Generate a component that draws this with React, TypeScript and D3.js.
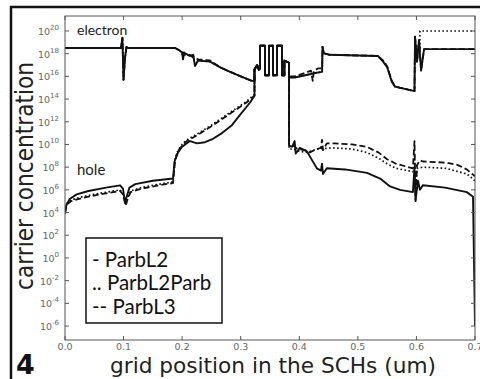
import React, { useEffect, useRef } from 'react';
import * as d3 from 'd3';

// each point: [grid position (um), log10 of carrier concentration]
type Pt = [number, number];

const wellBlock: Pt[] = [
  [0.3235, 16.6], [0.328, 17.0], [0.331, 16.6], [0.333, 16.7], [0.333, 18.7], [0.3415, 18.7],
  [0.3415, 16.1], [0.3483, 16.1], [0.3483, 18.7], [0.3551, 18.7], [0.3551, 16.1], [0.362, 16.1],
  [0.362, 18.7], [0.3705, 18.7], [0.3705, 16.1], [0.3745, 16.1], [0.3745, 17.4], [0.3825, 17.2],
];

const electronLeft: Pt[] = [
  [0, 18.5], [0.0956, 18.5], [0.098, 19.4], [0.0999, 15.7], [0.1024, 17.6], [0.105, 18.6],
  [0.1076, 18.5], [0.188, 18.5], [0.195, 18.3], [0.2, 18.1], [0.2015, 17.5], [0.203, 18.1],
  [0.213, 17.8], [0.219, 17.9], [0.222, 16.9], [0.227, 17.4], [0.2476, 17.3], [0.265, 16.8],
  [0.282, 16.4], [0.3, 16.0], [0.319, 15.6], [0.3235, 15.6],
];
const electronRight: Pt[] = [
  [0.3825, 15.9], [0.392, 15.9], [0.41, 16.1], [0.427, 16.3], [0.439, 16.4], [0.4397, 18.6],
  [0.4415, 18.1], [0.444, 18.0], [0.452, 17.9], [0.534, 17.8], [0.543, 17.3], [0.55, 16.8],
  [0.558, 15.5], [0.5634, 15.1], [0.58, 14.9], [0.5967, 14.7], [0.5976, 19.5], [0.601, 17.3],
  [0.6044, 19.2], [0.608, 16.5], [0.613, 18.4], [0.7, 18.4],
];
const electronL3Left: Pt[] = [
  [0, 18.5], [0.0956, 18.5], [0.098, 19.4], [0.0999, 15.7], [0.1024, 17.6], [0.105, 18.6],
  [0.1076, 18.5], [0.188, 18.5], [0.195, 18.3], [0.2, 18.1], [0.2015, 17.9], [0.213, 17.9],
  [0.22, 17.6], [0.228, 17.5], [0.2476, 17.4], [0.265, 16.8], [0.282, 16.4], [0.3, 16.0],
  [0.319, 15.6], [0.3235, 15.6],
];
const electronL3Right: Pt[] = [
  [0.3825, 16.0], [0.392, 16.0], [0.41, 16.3], [0.42, 16.5], [0.423, 15.6], [0.425, 16.5],
  [0.432, 16.7], [0.439, 16.7], [0.4397, 18.6], [0.4415, 18.1], [0.444, 18.0], [0.452, 17.9],
  [0.534, 17.8], [0.543, 17.4], [0.55, 16.9], [0.558, 15.6], [0.5634, 15.1], [0.58, 14.9],
  [0.5967, 14.7], [0.5976, 19.5], [0.601, 17.3], [0.6044, 19.2], [0.608, 16.5], [0.613, 18.4],
  [0.7, 18.4],
];
const electronParbRight: Pt[] = [
  [0.3825, 15.9], [0.392, 15.9], [0.41, 16.1], [0.427, 16.3], [0.439, 16.4], [0.4397, 18.6],
  [0.4415, 18.1], [0.444, 18.0], [0.452, 17.9], [0.534, 17.8], [0.543, 17.4], [0.55, 16.9],
  [0.558, 15.6], [0.5634, 15.1], [0.58, 14.9], [0.5967, 14.7], [0.5976, 19.5], [0.601, 17.3],
  [0.6044, 19.2], [0.606, 18.4], [0.606, 20.0], [0.7, 20.0],
];

const holeLeft: Pt[] = [
  [0, 3.9], [0.002, 4.6], [0.008, 5.2], [0.02, 5.6], [0.04, 5.9], [0.07, 6.2], [0.094, 6.4],
  [0.099, 6.1], [0.1025, 4.9], [0.106, 5.5], [0.11, 6.2], [0.12, 6.5], [0.15, 6.8], [0.1844, 7.0],
  [0.187, 8.5], [0.193, 9.3], [0.2, 9.8], [0.208, 10.1], [0.2134, 10.3], [0.2254, 10.1],
  [0.239, 10.2], [0.2527, 10.5], [0.268, 11.0], [0.285, 11.7], [0.2988, 12.6], [0.316, 13.7],
  [0.3235, 14.3],
];
const holeRight: Pt[] = [
  [0.3825, 9.9], [0.388, 9.8], [0.392, 10.3], [0.394, 9.2], [0.401, 9.7], [0.413, 9.4],
  [0.422, 8.6], [0.43, 7.9], [0.437, 7.7], [0.4388, 8.3], [0.4405, 7.4], [0.447, 7.9],
  [0.478, 7.8], [0.5156, 7.5], [0.538, 7.0], [0.555, 6.3], [0.572, 6.0], [0.594, 5.8],
  [0.5967, 8.0], [0.5985, 5.1], [0.6027, 6.8], [0.606, 6.0], [0.611, 6.4], [0.649, 6.2],
  [0.686, 5.8], [0.6966, 5.4], [0.7, -6],
];
const holeL3Left: Pt[] = [
  [0, 4.0], [0.003, 4.7], [0.01, 5.0], [0.03, 5.3], [0.06, 5.6], [0.094, 5.9], [0.099, 5.6],
  [0.1035, 4.6], [0.107, 5.2], [0.112, 5.8], [0.13, 6.1], [0.16, 6.4], [0.1844, 6.6],
  [0.188, 8.6], [0.193, 9.4], [0.2, 9.9], [0.208, 10.3], [0.225, 10.8], [0.25, 11.6],
  [0.27, 12.3], [0.29, 13.0], [0.31, 13.7], [0.3235, 14.3],
];
const holeL3Right: Pt[] = [
  [0.3825, 10.0], [0.39, 9.9], [0.397, 9.6], [0.41, 9.5], [0.418, 9.3], [0.43, 9.6],
  [0.437, 9.7], [0.4388, 10.4], [0.4405, 9.5], [0.447, 10.1], [0.46, 10.1], [0.49, 10.0],
  [0.515, 9.8], [0.535, 9.3], [0.55, 8.7], [0.565, 8.3], [0.594, 7.9], [0.5967, 10.3],
  [0.5985, 5.0], [0.601, 8.2], [0.606, 8.6], [0.611, 8.5], [0.65, 8.4], [0.67, 8.2],
  [0.686, 7.8], [0.7, 7.2],
];
const holeParbLeft: Pt[] = [
  [0, 4.1], [0.003, 4.8], [0.01, 5.1], [0.03, 5.4], [0.06, 5.7], [0.094, 6.0], [0.099, 5.7],
  [0.1035, 4.7], [0.107, 5.3], [0.112, 5.9], [0.13, 6.2], [0.16, 6.5], [0.1844, 6.7],
  [0.188, 8.8], [0.193, 9.5], [0.2, 10.0], [0.208, 10.4], [0.225, 10.9], [0.25, 11.7],
  [0.27, 12.4], [0.29, 13.1], [0.31, 13.8], [0.3235, 14.4],
];
const holeParbRight: Pt[] = [
  [0.3825, 9.6], [0.39, 9.6], [0.4, 9.4], [0.413, 9.3], [0.43, 9.6], [0.457, 9.7],
  [0.49, 9.6], [0.515, 9.3], [0.535, 8.8], [0.55, 8.3], [0.565, 7.9], [0.594, 7.6],
  [0.5967, 9.0], [0.5985, 6.0], [0.601, 7.9], [0.611, 8.0], [0.65, 7.9], [0.686, 7.4],
  [0.7, 6.8],
];

const electronParbL2 = [...electronLeft, ...wellBlock, ...electronRight];
const electronParbL2Parb = [...electronLeft, ...wellBlock, ...electronParbRight];
const electronParbL3 = [...electronL3Left, ...wellBlock, ...electronL3Right];
const holeParbL2 = [...holeLeft, ...wellBlock, ...holeRight];
const holeParbL2Parb = [...holeParbLeft, ...wellBlock, ...holeParbRight];
const holeParbL3 = [...holeL3Left, ...wellBlock, ...holeL3Right];

const xTicks = [0, 0.1, 0.2, 0.3, 0.4, 0.5, 0.6, 0.7];
const xTickLabels = ['0.0', '0.1', '0.2', '0.3', '0.4', '0.5', '0.6', '0.7'];
const yTickExponents = [-6, -4, -2, 0, 2, 4, 6, 8, 10, 12, 14, 16, 18, 20];
const legendLabels = ['- ParbL2', '.. ParbL2Parb', '-- ParbL3'];

const W = 480;
const H = 379;

const App = () => {
  const svgRef = useRef<SVGSVGElement>(null);

  useEffect(() => {
    const svg = d3.select(svgRef.current);
    svg.selectAll('*').remove();

    const left = 65;
    const right = 475;
    const top = 16;
    const bottom = 340;

    const x = d3.scaleLinear().domain([0, 0.7]).range([left, right]);
    const y = d3.scaleLog().domain([10 ** -7.23, 10 ** 21.32]).range([bottom, top]);

    svg.append('rect').attr('width', W).attr('height', H).attr('fill', '#fff');

    // figure panel frame (top and left)
    svg.append('path')
      .attr('d', `M11,${H} L11,7 L${W},7`)
      .attr('fill', 'none')
      .attr('stroke', '#111')
      .attr('stroke-width', 2.5);

    svg.append('clipPath').attr('id', 'plotclip')
      .append('rect')
      .attr('x', left).attr('y', top)
      .attr('width', right - left).attr('height', bottom - top);

    const line = d3.line<Pt>()
      .x(d => x(d[0]))
      .y(d => y(10 ** d[1]));

    const plot = svg.append('g').attr('clip-path', 'url(#plotclip)');

    const series = [
      { data: holeParbL2Parb, dash: '1.6,2.4', w: 1.7 },
      { data: electronParbL2Parb, dash: '1.6,2.4', w: 1.7 },
      { data: holeParbL3, dash: '6,3', w: 1.8 },
      { data: electronParbL3, dash: '6,3', w: 1.8 },
      { data: holeParbL2, dash: null, w: 1.9 },
      { data: electronParbL2, dash: null, w: 1.9 },
    ];
    series.forEach((s) => {
      plot.append('path')
        .datum(s.data)
        .attr('d', line)
        .attr('fill', 'none')
        .attr('stroke', '#111')
        .attr('stroke-width', s.w)
        .attr('stroke-linejoin', 'round')
        .attr('stroke-dasharray', s.dash);
    });

    // spines
    svg.append('rect')
      .attr('x', left).attr('y', top)
      .attr('width', right - left).attr('height', bottom - top)
      .attr('fill', 'none')
      .attr('stroke', '#555')
      .attr('stroke-width', 1);

    const tickColor = '#555';
    const labelColor = '#666';
    const tickFont = '"DejaVu Sans", sans-serif';

    // x ticks (inward, bottom and top)
    xTicks.forEach((t, i) => {
      const px = x(t);
      svg.append('line').attr('x1', px).attr('x2', px).attr('y1', bottom).attr('y2', bottom - 4)
        .attr('stroke', tickColor);
      svg.append('line').attr('x1', px).attr('x2', px).attr('y1', top).attr('y2', top + 4)
        .attr('stroke', tickColor);
      svg.append('text')
        .attr('x', px).attr('y', bottom + 10)
        .attr('text-anchor', 'middle')
        .attr('font-family', tickFont)
        .attr('font-size', 9.5)
        .attr('fill', labelColor)
        .text(xTickLabels[i]);
    });

    // y ticks (inward, left and right)
    yTickExponents.forEach((e) => {
      const py = y(10 ** e);
      svg.append('line').attr('x1', left).attr('x2', left + 4).attr('y1', py).attr('y2', py)
        .attr('stroke', tickColor);
      svg.append('line').attr('x1', right).attr('x2', right - 4).attr('y1', py).attr('y2', py)
        .attr('stroke', tickColor);
      const txt = svg.append('text')
        .attr('x', 59).attr('y', py + 4)
        .attr('text-anchor', 'end')
        .attr('font-family', tickFont)
        .attr('font-size', 9.5)
        .attr('fill', labelColor);
      txt.append('tspan').text('10');
      txt.append('tspan').attr('dy', -5).attr('font-size', 7).text(String(e));
    });

    // series annotations
    svg.append('text')
      .attr('x', 77).attr('y', 35)
      .attr('font-family', 'Lato, sans-serif')
      .attr('font-size', 14)
      .attr('fill', '#222')
      .text('electron');
    svg.append('text')
      .attr('x', 77).attr('y', 175)
      .attr('font-family', 'Lato, sans-serif')
      .attr('font-size', 15)
      .attr('fill', '#222')
      .text('hole');

    // legend
    svg.append('rect')
      .attr('x', 86).attr('y', 238)
      .attr('width', 136).attr('height', 85)
      .attr('fill', '#fff')
      .attr('stroke', '#111')
      .attr('stroke-width', 1.5);
    const legendY = [267, 290, 314];
    legendLabels.forEach((l, i) => {
      svg.append('text')
        .attr('x', 92).attr('y', legendY[i])
        .attr('font-family', 'Lato, sans-serif')
        .attr('font-size', 20.5)
        .attr('fill', '#111')
        .attr('xml:space', 'preserve')
        .text(l);
    });

    // axis labels
    svg.append('text')
      .attr('x', 273).attr('y', 373)
      .attr('text-anchor', 'middle')
      .attr('font-family', tickFont)
      .attr('font-size', 22)
      .attr('fill', '#222')
      .attr('textLength', 326)
      .attr('lengthAdjust', 'spacingAndGlyphs')
      .text('grid position in the SCHs (um)');
    svg.append('text')
      .attr('transform', 'translate(33,176) rotate(-90)')
      .attr('text-anchor', 'middle')
      .attr('font-family', tickFont)
      .attr('font-size', 25)
      .attr('fill', '#222')
      .attr('textLength', 228)
      .attr('lengthAdjust', 'spacingAndGlyphs')
      .text('carrier concentration');

    // panel number
    svg.append('text')
      .attr('x', 16).attr('y', 374)
      .attr('font-family', '"DejaVu Sans", sans-serif')
      .attr('font-weight', 'bold')
      .attr('font-size', 27)
      .attr('fill', '#111')
      .text('4');
  }, []);

  return (
    <svg
      ref={svgRef}
      width={W}
      height={H}
      style={{ position: 'absolute', left: 0, top: 0, display: 'block' }}
    />
  );
};

export default App;
